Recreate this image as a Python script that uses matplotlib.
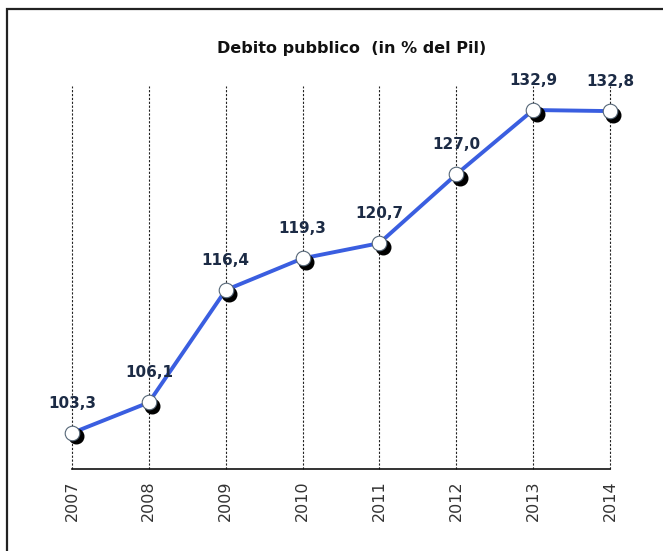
import matplotlib
matplotlib.use("Agg")
import matplotlib.pyplot as plt
import matplotlib.transforms as mtransforms
from matplotlib.patches import Rectangle

years = ["2007", "2008", "2009", "2010", "2011", "2012", "2013", "2014"]
debt = [103.3, 106.1, 116.4, 119.3, 120.7, 127.0, 132.9, 132.8]
labels = ["103,3", "106,1", "116,4", "119,3", "120,7", "127,0", "132,9", "132,8"]

fig = plt.figure(figsize=(6.63, 5.51), dpi=100)
fig.patch.set_facecolor("white")

# outer frame (open on right/bottom edges of the image)
fig.patches.append(Rectangle((7 / 663, -0.1), 1.2, 1 - 9 / 551 + 0.1,
                             transform=fig.transFigure, fill=False,
                             edgecolor="#222222", linewidth=1.6))

ax = fig.add_axes([72 / 663, 1 - 469 / 551, (610 - 72) / 663, (469 - 86) / 551])
x = list(range(len(years)))

ax.set_xlim(0, len(years) - 1)
ax.set_ylim(100, 135.1)

for xi in x:
    ax.axvline(xi, color="#222222", linestyle=(0, (2, 1.5)), linewidth=0.8,
               zorder=1, clip_on=False)

ax.plot(x, debt, color="#3a5ee0", linewidth=2.8, zorder=3,
        solid_capstyle="round", clip_on=False)

shadow = mtransforms.offset_copy(ax.transData, fig=fig, x=3.5, y=-3.5, units="dots")
ax.plot(x, debt, linestyle="none", marker="o", markersize=10.5,
        markerfacecolor="black", markeredgecolor="black", transform=shadow,
        zorder=4, clip_on=False)
ax.plot(x, debt, linestyle="none", marker="o", markersize=10.5,
        markerfacecolor="white", markeredgecolor="#556677", markeredgewidth=0.8,
        zorder=5, clip_on=False)

for xi, v, lab in zip(x, debt, labels):
    ax.annotate(lab, (xi, v), xytext=(0, 16), textcoords="offset points",
                ha="center", va="bottom", fontsize=11, fontweight="bold",
                color="#1c2b45", zorder=6, annotation_clip=False)

for s in ["left", "right", "top"]:
    ax.spines[s].set_visible(False)
ax.spines["bottom"].set_color("#111111")
ax.spines["bottom"].set_linewidth(1.2)

ax.set_yticks([])
ax.set_xticks(x)
ax.set_xticklabels(years, rotation=90, fontsize=11.5, color="#333333")
ax.tick_params(axis="x", length=0, pad=8)

fig.text(352 / 663, 1 - 48 / 551, "Debito pubblico  (in % del Pil)", ha="center", va="center",
         fontsize=11.5, fontweight="bold", color="#111111")

fig.savefig("out.png", dpi=100)
